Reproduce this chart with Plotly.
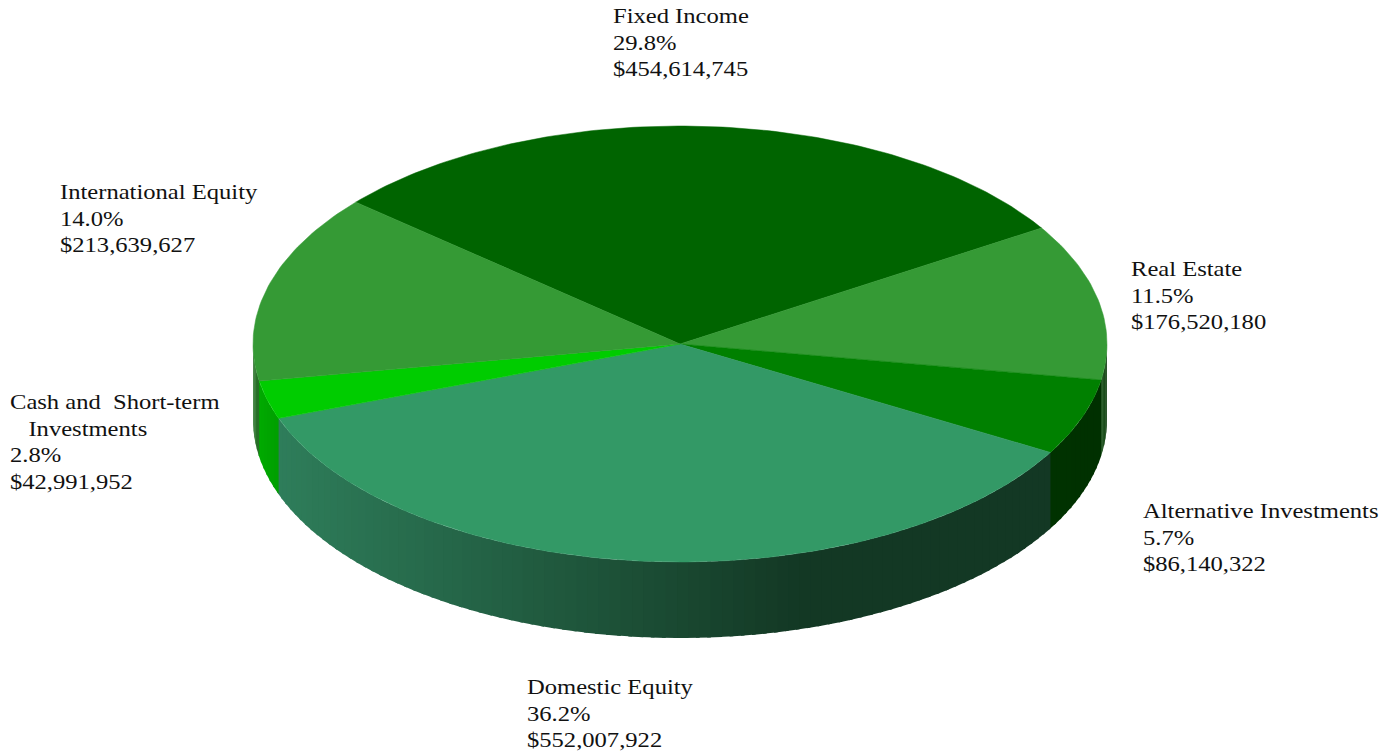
import math
import plotly.graph_objects as go

categories = ["Fixed Income", "Real Estate", "Alternative Investments",
              "Domestic Equity", "Cash and  Short-term<br>   Investments", "International Equity"]
amounts = [454614745, 176520180, 86140322, 552007922, 42991952, 213639627]
percents = ["29.8%", "11.5%", "5.7%", "36.2%", "2.8%", "14.0%"]
top_colors = ["#006400", "#359a35", "#008000", "#339966", "#00cc00", "#359a35"]
side_left = [(0, 60, 0), (40, 90, 40), (0, 50, 0), (46, 125, 90), (0, 170, 0), (43, 120, 43)]
side_right = [(0, 60, 0), (0, 48, 0), (0, 48, 0), (19, 56, 36), (0, 160, 0), (40, 110, 40)]
label_x = [612, 1130, 1142, 526, 9, 59]
label_y = [3.6, 256.6, 498.6, 674.6, 389.6, 179.6]

CX, CY, RX, RY, DEPTH = 680, 344, 427, 218, 76
START_DEG = -49.4

def pt(deg, dy=0):
    r = math.radians(deg)
    return CX + RX * math.sin(r), CY - RY * math.cos(r) + dy

def hexc(c):
    return "rgb(%d,%d,%d)" % (round(c[0]), round(c[1]), round(c[2]))

total = sum(amounts)
fig = go.Figure()
edges = [START_DEG]
for a in amounts:
    edges.append(edges[-1] + a / total * 360)

# side walls, drawn in short strips so the shading can vary along the rim
for i in range(len(amounts)):
    a0, a1 = max(edges[i], 90), min(edges[i + 1], 270)
    if a1 <= a0:
        continue
    n = max(2, int((a1 - a0) / 1.5))
    for k in range(n):
        s0 = a0 + (a1 - a0) * k / n
        s1 = min(a0 + (a1 - a0) * (k + 1) / n + 0.5, 270)
        xm = pt((s0 + s1) / 2)[0]
        if i == 3:  # gradient runs with x on the large wall
            f = min(1, max(0, (xm - 280) / (800 - 280)))
            col = [side_left[i][j] * (1 - f) + side_right[i][j] * f for j in range(3)]
        else:
            f = k / max(1, n - 1)
            col = [side_right[i][j] * (1 - f) + side_left[i][j] * f for j in range(3)]
        p = [pt(s0), pt(s1), pt(s1, DEPTH), pt(s0, DEPTH), pt(s0)]
        fig.add_trace(go.Scatter(x=[q[0] for q in p], y=[q[1] for q in p], mode="lines",
                                 fill="toself", fillcolor=hexc(col), line=dict(width=0),
                                 hoverinfo="skip", showlegend=False))

# top wedges
for i in range(len(amounts)):
    n = max(4, int(edges[i + 1] - edges[i]))
    p = [(CX, CY)] + [pt(edges[i] + (edges[i + 1] - edges[i]) * k / n) for k in range(n + 1)] + [(CX, CY)]
    fig.add_trace(go.Scatter(x=[q[0] for q in p], y=[q[1] for q in p], mode="lines",
                             fill="toself", fillcolor=top_colors[i], line=dict(width=0.5, color=top_colors[i]),
                             name=categories[i], showlegend=False))

for i in range(len(amounts)):
    fig.add_annotation(x=label_x[i], y=label_y[i], xref="x", yref="y", xanchor="left", yanchor="top",
                       align="left", showarrow=False, borderpad=0,
                       text="%s<br>%s<br>$%s" % (categories[i], percents[i], format(amounts[i], ",")),
                       font=dict(family="Liberation Serif", size=20.5, color="#111111"))

fig.update_layout(
    width=1392, height=754, margin=dict(l=0, r=0, t=0, b=0),
    paper_bgcolor="white", plot_bgcolor="white",
    xaxis=dict(range=[0, 1392], visible=False, fixedrange=True),
    yaxis=dict(range=[754, 0], visible=False, fixedrange=True),
)
stretch = """
document.body.style.margin='0';document.body.style.overflow='hidden';
document.querySelectorAll('.annotation-text').forEach(function(t){
  var x0=t.getBBox().x;
  t.setAttribute('transform','translate('+x0+',0) scale(1.2,1) translate('+(-x0)+',0)');
});
"""
fig.write_html("out.html", config={"displayModeBar": False}, post_script=stretch)
